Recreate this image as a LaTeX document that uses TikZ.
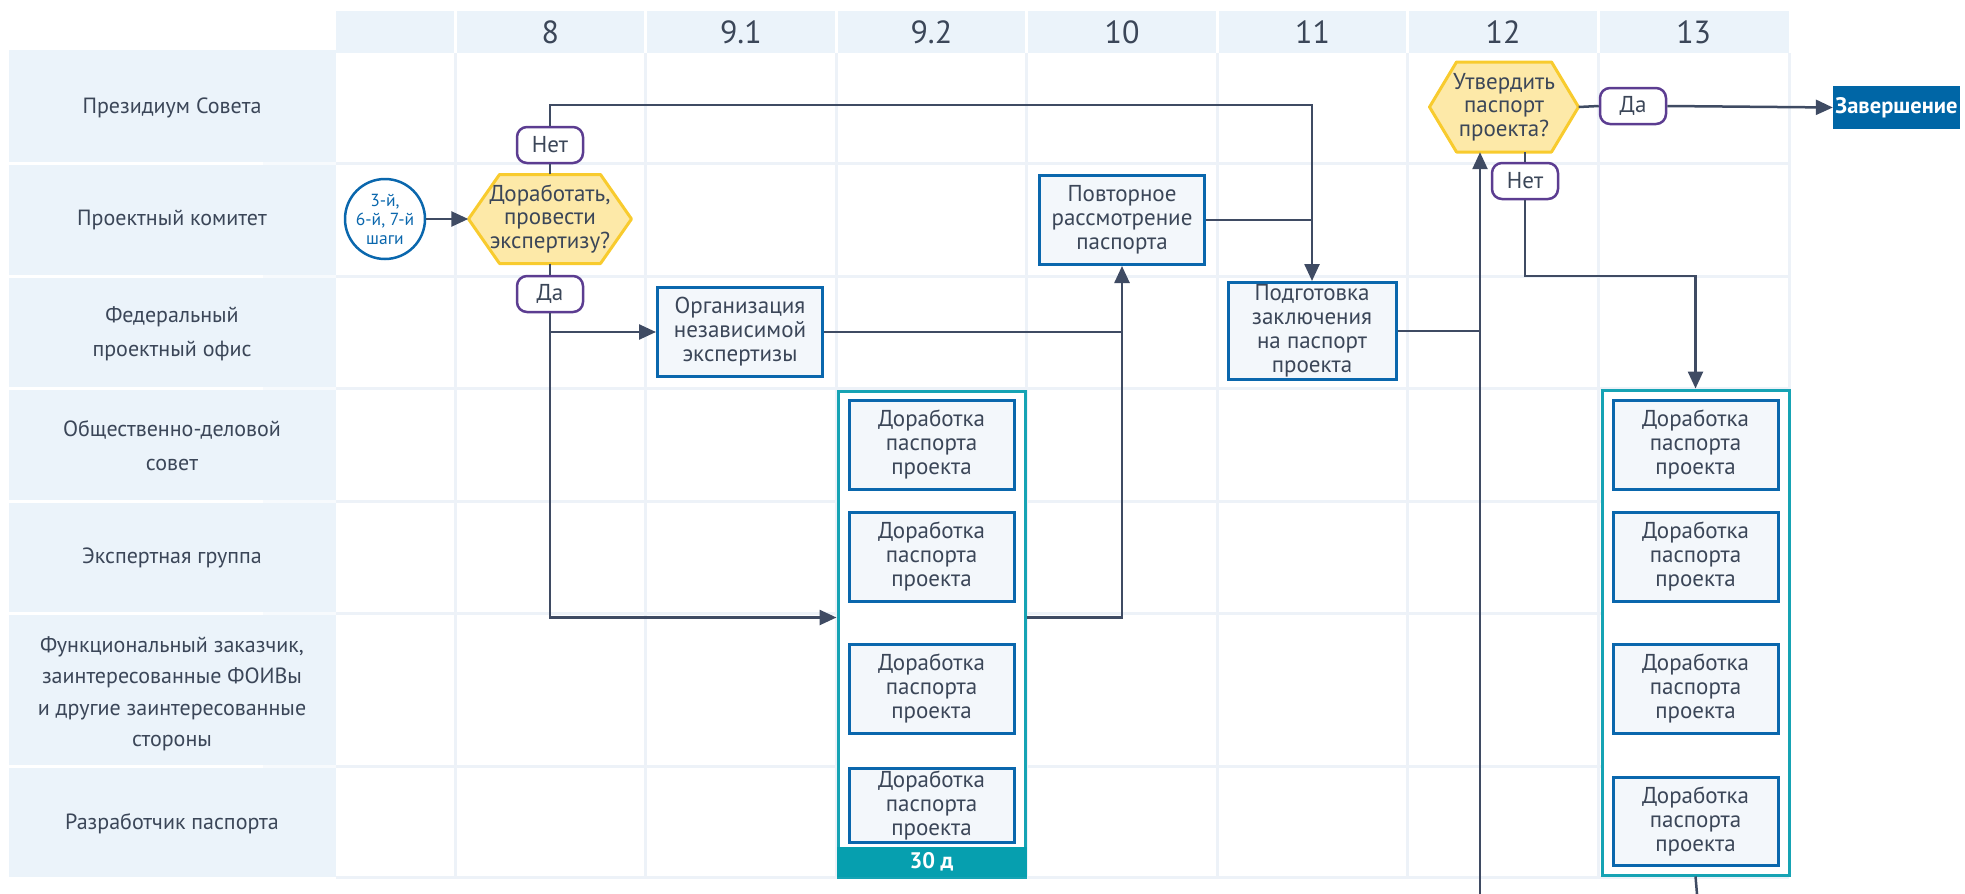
\documentclass[tikz,border=0pt]{standalone}
\usepackage{fontspec}
\setmainfont{PT Sans}
\usetikzlibrary{arrows.meta,calc}
\definecolor{lanebg}{HTML}{EBF3FA}
\definecolor{gridc}{HTML}{EDF2F8}
\definecolor{txt}{HTML}{3B4658}
\definecolor{boxb}{HTML}{0A67AD}
\definecolor{boxf}{HTML}{F3F7FB}
\definecolor{hexf}{HTML}{FDE9A8}
\definecolor{hexb}{HTML}{F8CB2E}
\definecolor{pillc}{HTML}{5C3D91}
\definecolor{tealc}{HTML}{16A3B4}
\definecolor{tealbar}{HTML}{069FAF}
\definecolor{lnc}{HTML}{3F4B63}
\definecolor{finc}{HTML}{0066A6}
\newcommand{\hexshape}[5]{\filldraw[hexstyle] ({#1-#3/2},#2) -- ({#1-#3/2+#5},{#2-#4/2}) -- ({#1+#3/2-#5},{#2-#4/2}) -- ({#1+#3/2},#2) -- ({#1+#3/2-#5},{#2+#4/2}) -- ({#1-#3/2+#5},{#2+#4/2}) -- cycle;}
\begin{document}
\begin{tikzpicture}[x=1pt,y=-1pt,
  lanelbl/.style={text=txt, align=center, font=\fontsize{22}{34}\selectfont},
  hdr/.style={text=txt, font=\fontsize{32}{33}\selectfont},
  procbox/.style={draw=boxb, fill=boxf, line width=3pt, minimum width=165pt, minimum height=89pt, inner sep=1pt, align=center, text=txt, font=\fontsize{23}{24}\selectfont},
  hexstyle/.style={draw=hexb, fill=hexf, line width=3pt, line join=round},
  hexnode/.style={minimum width=#1, minimum height=89pt, inner sep=0pt, align=center, text=txt, font=\fontsize{23}{23.5}\selectfont},
  pillbox/.style={draw=pillc, fill=white, line width=2.5pt, rounded corners=10pt, minimum width=66pt, minimum height=36pt, inner sep=0pt, text=txt, font=\fontsize{23}{24}\selectfont},
  grpbox/.style={draw=tealc, line width=3pt, fill=white, inner sep=0pt},
  conn/.style={draw=lnc, line width=2.5pt},
  arr/.style={conn, -{Triangle[length=17pt,width=15pt]}}
]
\useasboundingbox (0,0) rectangle (1965,894);
% backgrounds
\fill[lanebg] (9,50) rectangle (336,877);
\fill[lanebg] (336,11) rectangle (1789,53);
\foreach \x in {455,645.6,836.1,1026.7,1217.3,1407.9,1598.4}
  \draw[white,line width=3pt] (\x,11) -- (\x,53);
\foreach \x in {455,645.6,836.1,1026.7,1217.3,1407.9,1598.4,1789}
  \draw[gridc,line width=3pt] (\x,53) -- (\x,877);
\foreach \y in {163,276,388,501,613,766} {
  \draw[white,line width=3pt] (9,\y) -- (263,\y);
  \draw[white!60!lanebg,line width=3pt] (263,\y) -- (336,\y);
  \draw[gridc,line width=3pt] (336,\y) -- (1789,\y);
}
\draw[gridc,line width=3pt] (336,877) -- (1789,877);
% header
\node[hdr] (h8) at (550.3,32) {8};
\node[hdr] (h91) at (740.9,32) {9.1};
\node[hdr] (h92) at (931.4,32) {9.2};
\node[hdr] (h10) at (1122,32) {10};
\node[hdr] (h11) at (1312.6,32) {11};
\node[hdr] (h12) at (1503.1,32) {12};
\node[hdr] (h13) at (1693.7,32) {13};
% lane labels
\node[lanelbl] (l1) at (172,108) {Президиум Совета};
\node[lanelbl] (l2) at (172,220) {Проектный комитет};
\node[lanelbl] (l3) at (172,334) {Федеральный\\проектный офис};
\node[lanelbl] (l4) at (172,446) {Общественно-деловой\\совет};
\node[lanelbl] (l5) at (172,558) {Экспертная группа};
\node[lanelbl, font=\fontsize{22}{31.5}\selectfont] (l6) at (172,694) {Функциональный заказчик,\\заинтересованные ФОИВы\\и другие заинтересованные\\стороны};
\node[lanelbl] (l7) at (172,824) {Разработчик паспорта};
% flow nodes
\node[draw=boxb, fill=white, line width=2.5pt, circle, minimum size=80pt, inner sep=0pt, align=center, text=boxb, font=\fontsize{17.5}{19}\selectfont] (start) at (385,219) {3-й,\\6-й, 7-й\\шаги};
\hexshape{550}{219}{163}{89}{31}
\node[hexnode=163pt] (hex1) at (550,219) {Доработать,\\провести\\экспертизу?};
\node[pillbox] (no1) at (550,145) {Нет};
\node[pillbox] (yes1) at (550,294) {Да};
\node[procbox] (org) at (740,332) {Организация\\независимой\\экспертизы};
\node[procbox] (rev) at (1122,220) {Повторное\\рассмотрение\\паспорта};
\node[procbox, minimum width=168pt, minimum height=97pt, inner sep=0pt] (prep) at (1312,331) {Подготовка\\заключения\\на паспорт\\проекта};
\hexshape{1504}{107}{149}{90}{27}
\node[hexnode=149pt, minimum height=90pt] (hex2) at (1504,107) {Утвердить\\паспорт\\проекта?};
\node[pillbox] (yes2) at (1633,106) {Да};
\node[fill=finc, minimum width=127pt, minimum height=43pt, inner sep=0pt, text=white, font=\fontsize{22.5}{24}\selectfont\bfseries] (fin) at (1896.5,107.5) {Завершение};
\node[pillbox] (no2) at (1525,181) {Нет};
% group 9.2
\node[grpbox, minimum width=187pt, minimum height=486pt] (grp92) at (931.5,634) {};
\node[fill=tealbar, minimum width=190pt, minimum height=30pt, inner sep=0pt, text=white, font=\fontsize{22.5}{24}\selectfont\bfseries] (bar92) at (931.5,862) {30 д};
\node[procbox] (a1) at (931.5,444.5) {Доработка\\паспорта\\проекта};
\node[procbox] (a2) at (931.5,556.5) {Доработка\\паспорта\\проекта};
\node[procbox] (a3) at (931.5,688.5) {Доработка\\паспорта\\проекта};
\node[procbox, minimum height=74pt, inner sep=0pt] (a4) at (931.5,805) {Доработка\\паспорта\\проекта};
% group 13
\node[grpbox, minimum width=187pt, minimum height=485pt] (grp13) at (1695.5,632.5) {};
\node[procbox] (c1) at (1695.5,444.5) {Доработка\\паспорта\\проекта};
\node[procbox] (c2) at (1695.5,556.5) {Доработка\\паспорта\\проекта};
\node[procbox] (c3) at (1695.5,688.5) {Доработка\\паспорта\\проекта};
\node[procbox, minimum height=88pt] (c4) at (1695.5,821) {Доработка\\паспорта\\проекта};
% coordinates
\coordinate (topY) at (0,105);
\coordinate (midY) at (0,276);
\coordinate (in92) at ($(grp92.north west)+(0,228)$);
\coordinate (out92) at ($(grp92.north east)+(0,228)$);
\coordinate (bot1) at (1480,894);
\coordinate (bot2) at (1697,894);
% connectors
\draw[arr] (start) -- (hex1.west);
\draw[conn] (hex1.north) -- (no1.south);
\draw[arr] (no1.north) -- (no1.north |- topY) -| (prep.north);
\draw[conn] (rev.east) -- (rev.east -| prep.north);
\draw[conn] (hex1.south) -- (yes1.north);
\draw[arr] (yes1.south) |- (in92);
\draw[arr] (yes1.south |- org.west) -- (org.west);
\draw[conn] (org.east) -- (org.east -| rev.south);
\draw[arr] (out92) -| (rev.south);
\draw[conn] (prep.east) -- (prep.east -| bot1);
\draw[arr] (bot1) -- (bot1 |- hex2.south);
\draw[conn] (hex2.east) -- (yes2.west);
\draw[arr] (yes2.east) -- (fin.west);
\draw[conn] (no2.north) -- (no2.north |- hex2.south);
\draw[arr] (no2.south) -- (no2.south |- midY) -| (grp13.north);
\draw[conn] (grp13.south) -- (bot2);
\end{tikzpicture}
\end{document}
